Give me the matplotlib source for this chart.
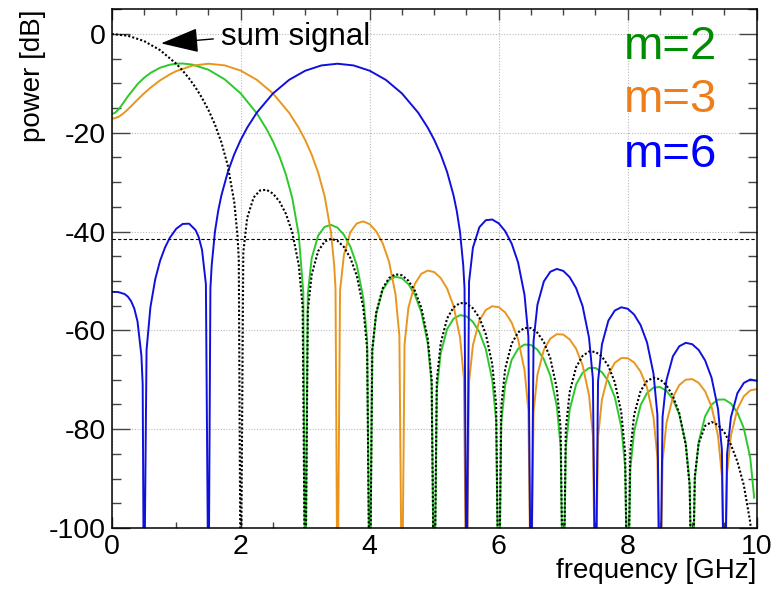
import matplotlib
matplotlib.use("Agg")
import matplotlib.pyplot as plt
from matplotlib.ticker import MultipleLocator

plt.rcParams['font.family'] = ['Liberation Sans', 'DejaVu Sans']
plt.rcParams['axes.unicode_minus'] = False

# ---- values: frequency [GHz], power [dB]; -120 marks a null below the -100 floor ----
freq_sum = [0, 0.25, 0.5, 0.75, 1.0, 1.1, 1.2, 1.3, 1.4, 1.5, 1.6, 1.7, 1.8, 1.9, 1.95, 1.97, 2.0,
            2.04, 2.1, 2.2, 2.3, 2.4, 2.5, 2.6, 2.7, 2.8, 2.9, 2.96, 3.0,
            3.04, 3.1, 3.2, 3.3, 3.4, 3.5, 3.6, 3.7, 3.8, 3.9, 3.96, 4.0,
            4.04, 4.1, 4.2, 4.3, 4.4, 4.5, 4.6, 4.7, 4.8, 4.9, 4.96, 5.0,
            5.04, 5.1, 5.2, 5.3, 5.4, 5.5, 5.6, 5.7, 5.8, 5.9, 5.96, 6.0,
            6.04, 6.1, 6.2, 6.3, 6.4, 6.5, 6.6, 6.7, 6.8, 6.9, 6.96, 7.0,
            7.04, 7.1, 7.2, 7.3, 7.4, 7.5, 7.6, 7.7, 7.8, 7.9, 7.96, 8.0,
            8.04, 8.1, 8.2, 8.3, 8.4, 8.5, 8.6, 8.7, 8.8, 8.9, 8.96, 9.0,
            9.04, 9.1, 9.2, 9.3, 9.4, 9.5, 9.6, 9.7, 9.8, 9.9, 9.96, 10.0]
power_sum = [0, -0.35, -1.42, -3.27, -6.02, -7.42, -9.01, -10.84, -12.95, -15.40, -18.32, -21.92, -26.67, -34.05, -40.81, -45.55, -120,
             -44.17, -37.24, -33.10, -31.67, -31.54, -32.31, -33.89, -36.38, -40.21, -46.79, -55.21, -120,
             -56.07, -48.73, -43.98, -42.03, -41.46, -41.85, -43.12, -45.35, -48.96, -55.37, -63.71, -120,
             -63.90, -56.45, -51.52, -49.39, -48.64, -48.85, -49.94, -51.99, -55.42, -61.65, -69.88, -120,
             -70.15, -62.63, -57.58, -55.33, -54.46, -54.55, -55.52, -57.45, -60.76, -66.87, -75.03, -120,
             -75.34, -67.79, -62.70, -60.41, -59.50, -59.55, -60.48, -62.37, -65.64, -71.71, -79.84, -120,
             -80.04, -72.51, -67.44, -65.17, -64.28, -64.35, -65.30, -67.21, -70.50, -76.59, -84.74, -120,
             -84.44, -77.06, -72.24, -70.22, -69.58, -69.90, -71.10, -73.26, -76.80, -83.14, -91.44, -120,
             -89.54, -82.90, -79.32, -78.54, -79.14, -80.70, -83.14, -86.54, -91.32, -98.90, -107.9, -120]

freq_m2 = [0, 0.05, 0.1, 0.175, 0.25, 0.4, 0.5, 0.6, 0.75, 0.9, 1.0, 1.1, 1.25, 1.5, 1.75, 2.0, 2.25, 2.4, 2.5, 2.6, 2.7, 2.8, 2.9, 2.97, 3.0,
           3.04, 3.1, 3.2, 3.3, 3.4, 3.5, 3.6, 3.7, 3.8, 3.9, 3.96, 4.0,
           4.04, 4.1, 4.2, 4.3, 4.4, 4.5, 4.6, 4.7, 4.8, 4.9, 4.96, 5.0,
           5.04, 5.1, 5.2, 5.3, 5.4, 5.5, 5.6, 5.7, 5.8, 5.9, 5.96, 6.0,
           6.04, 6.1, 6.2, 6.3, 6.4, 6.5, 6.6, 6.7, 6.8, 6.9, 6.96, 7.0,
           7.04, 7.1, 7.2, 7.3, 7.4, 7.5, 7.6, 7.7, 7.8, 7.9, 7.96, 8.0,
           8.04, 8.1, 8.2, 8.3, 8.4, 8.5, 8.6, 8.7, 8.8, 8.9, 8.96, 9.0,
           9.04, 9.1, 9.2, 9.3, 9.4, 9.5, 9.6, 9.7, 9.8, 9.9, 9.96]
power_m2 = [-16.2, -15.97, -15.36, -14.05, -12.63, -10.16, -8.89, -7.89, -6.83, -6.22, -6.02, -5.98, -6.19, -7.24, -9.17, -12.04, -16.07, -19.23, -21.76, -24.75, -28.43, -33.25, -40.7, -52.3, -120,
            -52.64, -45.40, -40.82, -39.04, -38.64, -39.20, -40.64, -43.04, -46.82, -53.40, -61.84, -120,
            -64.04, -56.65, -51.82, -49.79, -49.14, -49.45, -50.64, -52.79, -56.32, -62.65, -70.94, -120,
            -72.06, -64.63, -59.73, -57.63, -56.91, -57.15, -58.27, -60.35, -63.81, -70.07, -78.32, -120,
            -78.55, -71.03, -65.98, -63.73, -62.86, -62.95, -63.92, -65.85, -69.16, -75.27, -83.43, -120,
            -83.66, -76.08, -70.93, -68.58, -67.61, -67.60, -68.47, -70.30, -73.51, -79.52, -87.62, -120,
            -88.03, -80.38, -75.12, -72.66, -71.58, -71.46, -72.22, -73.94, -77.04, -82.94, -90.97, -120,
            -90.18, -82.58, -77.40, -75.02, -74.02, -73.98, -74.82, -76.62, -79.80, -85.78, -93.86]

freq_m3 = [0, 0.1, 0.175, 0.25, 0.4, 0.5, 0.6, 0.75, 0.9, 1.0, 1.25, 1.5, 1.75, 2.0, 2.25, 2.5, 2.75, 2.9, 3.0, 3.1, 3.2, 3.3, 3.4, 3.45, 3.47, 3.5,
           3.54, 3.6, 3.7, 3.8, 3.9, 4.0, 4.1, 4.2, 4.3, 4.4, 4.46, 4.5,
           4.54, 4.6, 4.7, 4.8, 4.9, 5.0, 5.1, 5.2, 5.3, 5.4, 5.46, 5.5,
           5.54, 5.6, 5.7, 5.8, 5.9, 6.0, 6.1, 6.2, 6.3, 6.4, 6.46, 6.5,
           6.54, 6.6, 6.7, 6.8, 6.9, 7.0, 7.1, 7.2, 7.3, 7.4, 7.46, 7.5,
           7.54, 7.6, 7.7, 7.8, 7.9, 8.0, 8.1, 8.2, 8.3, 8.4, 8.46, 8.5,
           8.54, 8.6, 8.7, 8.8, 8.9, 9.0, 9.1, 9.2, 9.3, 9.4, 9.46, 9.5,
           9.54, 9.6, 9.7, 9.8, 9.9, 10.0]
power_m3 = [-17.2, -16.83, -16.14, -15.26, -13.30, -12.04, -10.89, -9.39, -8.18, -7.52, -6.41, -6.02, -6.35, -7.42, -9.28, -12.04, -15.94, -19.01, -21.48, -24.42, -28.03, -32.79, -40.2, -46.95, -51.7, -120,
            -51.94, -44.70, -40.12, -38.34, -37.94, -38.50, -39.94, -42.34, -46.12, -52.70, -61.14, -120,
            -62.79, -55.40, -50.57, -48.54, -47.89, -48.20, -49.39, -51.54, -55.07, -61.40, -69.69, -120,
            -70.44, -62.98, -58.03, -55.88, -55.11, -55.30, -56.37, -58.40, -61.81, -68.02, -76.24, -120,
            -76.52, -68.99, -63.92, -61.66, -60.77, -60.85, -61.81, -63.72, -67.02, -73.11, -81.26, -120,
            -81.59, -74.02, -68.89, -66.56, -65.61, -65.62, -66.51, -68.36, -71.59, -77.62, -85.73, -120,
            -86.43, -78.78, -73.52, -71.06, -69.98, -69.86, -70.62, -72.34, -75.44, -81.34, -89.37, -120,
            -89.02, -81.30, -75.92, -73.34, -72.14, -71.90]

freq_m6 = [0, 0.1, 0.2, 0.25, 0.3, 0.35, 0.4, 0.46, 0.48, 0.5,
           0.54, 0.6, 0.675, 0.75, 0.825, 0.9, 1.0, 1.1, 1.2, 1.3, 1.35, 1.4, 1.46, 1.5,
           1.53, 1.55, 1.6, 1.65, 1.7, 1.8, 1.9, 2.0, 2.1, 2.25, 2.5, 2.75, 3.0, 3.25, 3.5,
           3.75, 4.0, 4.25, 4.5, 4.75, 4.9, 5.0, 5.1, 5.2, 5.3, 5.35, 5.4, 5.45, 5.47, 5.5,
           5.54, 5.6, 5.7, 5.8, 5.9, 6.0, 6.1, 6.2, 6.3, 6.4, 6.46, 6.5,
           6.54, 6.6, 6.7, 6.8, 6.9, 7.0, 7.1, 7.2, 7.3, 7.4, 7.46, 7.5,
           7.54, 7.6, 7.7, 7.8, 7.9, 8.0, 8.1, 8.2, 8.3, 8.4, 8.46, 8.5,
           8.54, 8.6, 8.7, 8.8, 8.9, 9.0, 9.1, 9.2, 9.3, 9.4, 9.46, 9.5,
           9.54, 9.6, 9.7, 9.8, 9.9, 10.0]
power_m6 = [-52.2, -52.24, -52.64, -53.16, -54.07, -55.58, -58.2, -65.1, -70.9, -120,
            -63.96, -55.3, -49.62, -45.9, -43.26, -41.27, -39.43, -38.45, -38.4, -39.69, -41.16, -43.7, -50.6, -120,
            -51.5, -46.83, -40.07, -35.85, -32.69, -27.94, -24.34, -21.42, -18.97, -15.91, -12.04, -9.29, -7.44, -6.37, -6.02,
            -6.37, -7.44, -9.29, -12.04, -15.91, -18.97, -21.42, -24.34, -27.94, -32.69, -35.85, -40.07, -46.83, -51.5, -120,
            -50.19, -43.26, -39.12, -37.69, -37.56, -38.33, -39.91, -42.40, -46.23, -52.81, -61.23, -120,
            -62.17, -54.83, -50.08, -48.13, -47.56, -47.95, -49.22, -51.45, -55.06, -61.47, -69.81, -120,
            -70.26, -62.86, -58.02, -55.98, -55.32, -55.62, -56.80, -58.94, -62.46, -68.78, -77.06, -120,
            -77.53, -70.12, -65.26, -63.20, -62.52, -62.80, -63.96, -66.08, -69.58, -75.88, -84.15, -120,
            -85.02, -77.60, -72.72, -70.64, -69.94, -70.20]

ref_level = -41.6          # dashed horizontal marker
labels = ["m=2", "m=3", "m=6"]

# ---- colours ----
GREEN, ORANGE, BLUE = "#2cc82c", "#e8961e", "#1010dc"
TXT = ["#008c00", "#ec7f1c", "#0000ff"]

fig = plt.figure(figsize=(7.84, 5.91), dpi=100)
ax = fig.add_axes([0.1425, 0.1066, 0.8227, 0.8777])
ax.set_xlim(0, 10)
ax.set_ylim(-100, 5)

ax.xaxis.set_major_locator(MultipleLocator(2))
ax.xaxis.set_minor_locator(MultipleLocator(0.5))
ax.yaxis.set_major_locator(MultipleLocator(20))
ax.yaxis.set_minor_locator(MultipleLocator(5))
ax.grid(True, which="major", color="#b8b8b8", ls=(0, (1, 1.5)), lw=0.8)
ax.set_axisbelow(True)

ax.tick_params(which="both", direction="in", top=True, right=True, color="#444444", width=1.0)
ax.tick_params(axis="x", which="major", length=8, pad=4, labelsize=20.5)
ax.tick_params(axis="x", which="minor", length=4)
ax.tick_params(axis="y", which="major", length=13, pad=4, labelsize=20.5)
ax.tick_params(axis="y", which="minor", length=6.5)
for s in ax.spines.values():
    s.set_linewidth(1.1)

ax.plot(freq_m2, power_m2, color=GREEN, lw=1.4)
ax.plot(freq_m3, power_m3, color=ORANGE, lw=1.4)
ax.plot(freq_m6, power_m6, color=BLUE, lw=1.4)
ax.plot(freq_sum, power_sum, color="black", lw=1.5, ls=(0, (1, 1)))
ax.axhline(ref_level, color="black", lw=0.8, ls=(0, (3, 2)))

ax.set_xlabel("frequency [GHz]", fontsize=20, loc="right")
ax.xaxis.set_label_coords(1.0, -0.058)
ax.set_ylabel("power [dB]", fontsize=20, loc="top")
ax.yaxis.set_label_coords(-0.102, 1.0)

# annotation
ax.annotate("", xy=(0.765, -1.9), xytext=(1.575, -1.0),
            arrowprops=dict(arrowstyle="-|>,head_length=1.7,head_width=0.55", mutation_scale=14,
                            color="black", lw=1.0, shrinkA=0, shrinkB=0))
ax.text(1.70, -2.2, "sum signal", fontsize=22.5, ha="left", va="baseline")

for lab, col, yb in zip(labels, TXT, [-5.1, -15.8, -26.9]):
    ax.text(7.94, yb, lab, fontsize=34, color=col, ha="left", va="baseline")

fig.savefig("out.png", dpi=100)
